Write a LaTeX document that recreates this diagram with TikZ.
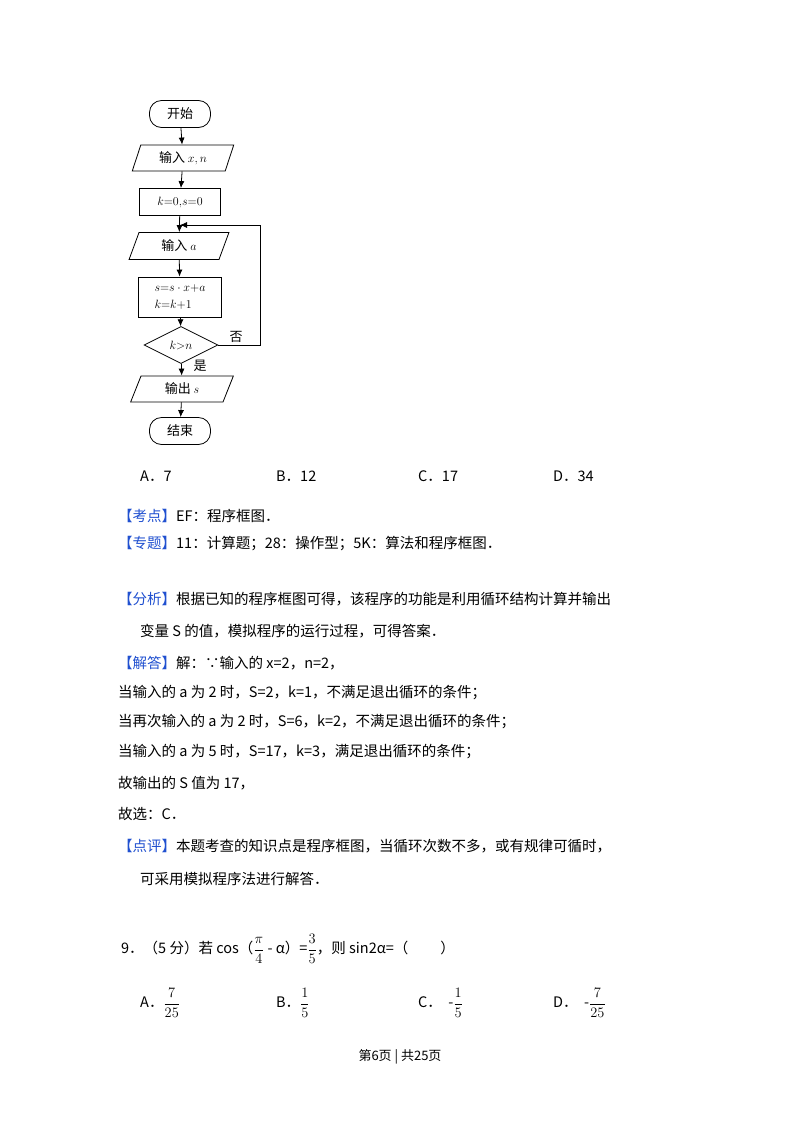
\documentclass[tikz,border=0pt]{standalone}
\usepackage{fontspec}
\setmainfont{Noto Sans CJK SC}
\newfontfamily\cjk{Noto Sans CJK SC}
\usetikzlibrary{shapes.geometric,arrows.meta}
\definecolor{kblue}{HTML}{2050D0}
\newcommand{\kb}[1]{{\color{kblue}【#1】}}
\newcommand{\fr}[2]{{\displaystyle\frac{#1}{#2}}}
\begin{document}
\begin{tikzpicture}[x=1pt,y=-1pt,
  fc/.style={draw,line width=0.8pt,font=\fontsize{13}{15}\selectfont,inner sep=0pt},
  term/.style={fc,rounded corners=12pt,minimum width=61pt,minimum height=27pt},
  io/.style={fc,trapezium,trapezium left angle=70,trapezium right angle=110,minimum width=74pt,minimum height=26pt,trapezium stretches=true},
  proc/.style={fc,rectangle,minimum width=81pt},
  dec/.style={fc,diamond,aspect=2,minimum width=74pt,minimum height=37pt},
  ar/.style={-{Latex[length=7pt,width=6pt]},line width=0.8pt},
  tx/.style={anchor=west,inner sep=0pt,font=\fontsize{14.5}{17}\selectfont}]
\useasboundingbox[fill=white] (0,0) rectangle (800,1133);
% flowchart
\node[term] (st) at (180,114) {开始};
\node[io,minimum width=102pt] (in1) at (183,158) {输入 $x,n$};
\node[proc,minimum height=27pt] (init) at (180,202) {$k{=}0{,}s{=}0$};
\coordinate (j) at (180,225);
\node[io,minimum width=100pt,minimum height=27pt] (in2) at (179,246) {输入 $a$};
\node[proc,minimum width=83pt,minimum height=40pt,align=left] (pr) at (180,297) {$s{=}s\cdot x{+}a$\\[2pt]$k{=}k{+}1$};
\node[dec] (d) at (181,345) {$k{>}n$};
\node[io,minimum width=103pt] (out) at (182,389) {输出 $s$};
\node[term] (en) at (180,431) {结束};
\draw[ar] (st) -- (in1);
\draw[ar] (in1) -- (init);
\draw[ar] (init) -- (in2);
\draw[ar] (in2) -- (pr);
\draw[ar] (pr) -- (d);
\draw[ar] (d) -- (out);
\draw[ar] (out) -- (en);
\coordinate (r1) at (260,345);
\coordinate (r2) at (260,225);
\draw[line width=0.8pt] (d.east) -- (r1) -- (r2) -- (j);
\draw[ar] (r2) -- (j);
\node[font=\fontsize{13}{15}\selectfont] (no) at (236,337) {否};
\node[font=\fontsize{13}{15}\selectfont] (yes) at (200,366) {是};
% options
\node[tx] (a1) at (140,476) {A．7};
\node[tx] (b1) at (276,476) {B．12};
\node[tx] (c1) at (418,476) {C．17};
\node[tx] (d1) at (553,476) {D．34};
% analysis
\node[tx] (t1) at (118,516) {\kb{考点}EF：程序框图．};
\node[tx] (t2) at (118,544) {\kb{专题}11：计算题；28：操作型；5K：算法和程序框图．};
\node[tx] (t3) at (118,599) {\kb{分析}根据已知的程序框图可得，该程序的功能是利用循环结构计算并输出};
\node[tx] (t4) at (140,631) {变量 S 的值，模拟程序的运行过程，可得答案．};
\node[tx] (t5) at (118,663) {\kb{解答}解：∵输入的 x=2，n=2，};
\node[tx] (t6) at (118,693) {当输入的 a 为 2 时，S=2，k=1，不满足退出循环的条件；};
\node[tx] (t7) at (118,722) {当再次输入的 a 为 2 时，S=6，k=2，不满足退出循环的条件；};
\node[tx] (t8) at (118,752) {当输入的 a 为 5 时，S=17，k=3，满足退出循环的条件；};
\node[tx] (t9) at (118,783) {故输出的 S 值为 17，};
\node[tx] (t10) at (118,814) {故选：C．};
\node[tx] (t11) at (118,846) {\kb{点评}本题考查的知识点是程序框图，当循环次数不多，或有规律可循时，};
\node[tx] (t12) at (140,879) {可采用模拟程序法进行解答．};
% question 9
\node[tx] (q9) at (121,949) {9．（5 分）若 cos（$\fr{\pi}{4}$ - α）=$\fr{3}{5}$，则 sin2α=（\hspace{2.2em}）};
\node[tx] (qa) at (140,1003) {A．$\fr{7}{25}$};
\node[tx] (qb) at (276,1003) {B．$\fr{1}{5}$};
\node[tx] (qc) at (418,1003) {C．\ \ -$\fr{1}{5}$};
\node[tx] (qd) at (553,1003) {D．\ \ -$\fr{7}{25}$};
\node[font=\fontsize{13}{15}\selectfont] (ft) at (400,1057) {第6页 | 共25页};
\end{tikzpicture}
\end{document}
